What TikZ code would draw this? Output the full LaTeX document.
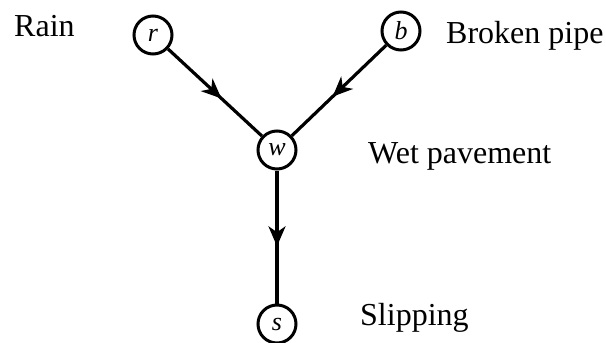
\documentclass[tikz,border=0pt]{standalone}
\usepackage{fontspec}
\setmainfont{Liberation Serif}
\usetikzlibrary{arrows.meta,decorations.markings}
\tikzset{
  var/.style={circle,draw,line width=3pt,minimum size=38pt,inner sep=0pt,font=\fontsize{26}{26}\selectfont\itshape},
  lbl/.style={anchor=base west,inner sep=0pt,font=\fontsize{32}{32}\selectfont},
  edge/.style={line width=3.2pt,postaction={decorate},decoration={markings,mark=at position 0.57 with {\arrow{Stealth[length=20pt,width=17pt,inset=6pt]}}}}
}
\begin{document}
\begin{tikzpicture}[x=1pt,y=-1pt]
\useasboundingbox (0,0) rectangle (606,343);
\node[var] (r) at (153,35) {r};
\node[var] (b) at (401,31) {b};
\node[var] (w) at (277,150) {w};
\node[var] (s) at (277,324) {s};
\node[lbl] (lr) at (14,36) {Rain};
\node[lbl] (lb) at (446,43) {Broken pipe};
\node[lbl] (lw) at (368,163) {Wet pavement};
\node[lbl] (ls) at (360,325) {Slipping};
\draw[edge] (r) -- (w);
\draw[edge] (b) -- (w);
\draw[edge] (w) -- (s);
\end{tikzpicture}
\end{document}
